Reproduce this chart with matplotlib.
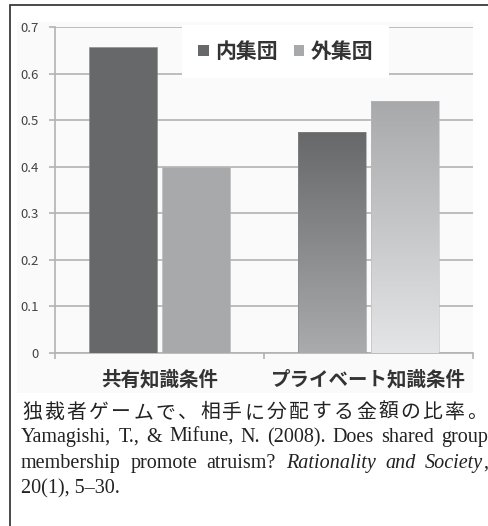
import numpy as np
import matplotlib.pyplot as plt
from matplotlib.patches import Rectangle
from matplotlib.colors import LinearSegmentedColormap

plt.rcParams['font.family'] = ['Noto Sans CJK JP', 'DejaVu Sans']

# データ
conditions = ['共有知識条件', 'プライベート知識条件']
groups = ['内集団', '外集団']
ingroup = [0.657, 0.474]
outgroup = [0.399, 0.541]
yticks = [0, 0.1, 0.2, 0.3, 0.4, 0.5, 0.6, 0.7]
yticklabels = ['0', '0.1', '0.2', '0.3', '0.4', '0.5', '0.6', '0.7']

W, H = 489, 526
fig = plt.figure(figsize=(W / 100, H / 100), dpi=100)
fig.patch.set_facecolor('white')

# 外枠と背景
fig.add_artist(Rectangle((10 / W, 0 - 0.01), 1.0, 1 - 5 / H + 0.01, transform=fig.transFigure,
                         facecolor='none', edgecolor='#3a3a3a', lw=1.3))
fig.add_artist(Rectangle((17 / W, 1 - 393 / H), 456 / W, 371 / H, transform=fig.transFigure,
                         facecolor='#fafafa', edgecolor='none', zorder=0))

ax = fig.add_axes([55 / W, 1 - 353 / H, 418 / W, 326 / H])
ax.set_facecolor('none')

x = np.arange(len(conditions))
bw = 0.325
off = bw / 2 + 0.01
dark = '#67686a'
light = '#a8a9ab'

b1 = ax.bar(x - off, ingroup, bw, color=dark, label=groups[0], zorder=3,
            edgecolor='#8a8a8a', lw=0.4)
b2 = ax.bar(x + off, outgroup, bw, color=light, label=groups[1], zorder=3,
            edgecolor='#b8b8b8', lw=0.4)

# プライベート知識条件の棒はグラデーション
grad_dark = LinearSegmentedColormap.from_list('gd', ['#aaabad', '#67686a'])
grad_light = LinearSegmentedColormap.from_list('gl', ['#e4e5e7', '#a8a9ab'])
g = np.linspace(0, 1, 256).reshape(-1, 1)
for bar, cmap in [(b1[1], grad_dark), (b2[1], grad_light)]:
    bx, by = bar.get_x(), bar.get_y()
    bwid, bh = bar.get_width(), bar.get_height()
    bar.set_facecolor('none')
    im = ax.imshow(g, cmap=cmap, origin='lower', aspect='auto',
                   extent=[bx, bx + bwid, by, by + bh], zorder=2.9)
    im.set_clip_path(bar)

ax.set_xlim(-0.5, 1.5)
ax.set_ylim(0, 0.7)
ax.set_yticks(yticks)
ax.set_yticklabels(yticklabels)
ax.yaxis.grid(True, color='#b3b3b3', lw=1.2, zorder=1)
ax.set_axisbelow(True)

for s in ['top', 'right']:
    ax.spines[s].set_visible(False)
for s in ['left', 'bottom']:
    ax.spines[s].set_color('#b3b3b3')
    ax.spines[s].set_linewidth(1.2)

ax.tick_params(axis='y', length=4, width=1.2, color='#b3b3b3', labelsize=9.5,
               labelcolor='#444444', pad=8)
ax.set_xticks([-0.5, 0.5, 1.5])
ax.set_xticklabels([])
ax.tick_params(axis='x', length=4, width=1.2, color='#b3b3b3', direction='out')
for xi, c in zip(x, conditions):
    ax.text(xi, -0.058, c, ha='center', va='center', fontsize=14,
            color='#333333', fontweight='bold')

leg = ax.legend(loc='center', bbox_to_anchor=(0.552, 0.925), ncol=2, frameon=True,
                handlelength=0.5, handleheight=0.5, handletextpad=0.3,
                columnspacing=0.8, borderpad=0.75, borderaxespad=0,
                prop={'weight': 'bold', 'size': 15})
leg.get_frame().set_facecolor('white')
leg.get_frame().set_edgecolor('none')
leg.get_frame().set_alpha(1)
leg.get_frame().set_boxstyle('square', pad=0)
leg.set_zorder(4)
for t in leg.get_texts():
    t.set_color('#333333')
leg.legend_handles[0].set_facecolor(dark)
leg.legend_handles[1].set_facecolor(light)
for h in leg.legend_handles:
    h.set_edgecolor('none')

# 注釈（両端揃え）
serif = ['Liberation Serif', 'Noto Sans CJK JP']
renderer = fig.canvas.get_renderer()


def justify(y, words, x0, x1):
    # words: 単語ごとの [(text, props), ...] のリスト
    placed = []
    total = 0
    for parts in words:
        arts = [fig.text(0, y, t, va='baseline', **kw) for t, kw in parts]
        ws = [a.get_window_extent(renderer).width / W for a in arts]
        placed.append((arts, ws))
        total += sum(ws)
    gap = (x1 - x0 - total) / (len(placed) - 1)
    pos = x0
    for arts, ws in placed:
        for a, w in zip(arts, ws):
            a.set_x(pos)
            pos += w
        pos += gap


jp = dict(family=['Noto Sans CJK JP'], fontsize=14.3, color='#222222')
rm = dict(family=serif, fontsize=14.5, color='#222222')
it = dict(family=serif, fontsize=14.5, color='#222222', style='italic')

line1 = '独裁者ゲームで、相手に分配する金額の比率。'
justify(1 - 418 / H, [[(ch, jp)] for ch in line1], 22 / W, 487 / W)
line2 = 'Yamagishi, T., & Mifune, N. (2008). Does shared group'
justify(1 - 442 / H, [[(w, rm)] for w in line2.split()], 21 / W, 488 / W)
line3 = [[('membership', rm)], [('promote', rm)], [('atruism?', rm)],
         [('Rationality', it)], [('and', it)], [('Society', it), (',', rm)]]
justify(1 - 468 / H, line3, 21 / W, 488 / W)
fig.text(21 / W, 1 - 493 / H, '20(1), 5–30.', va='baseline', **rm)

fig.savefig('out.png', dpi=100)
